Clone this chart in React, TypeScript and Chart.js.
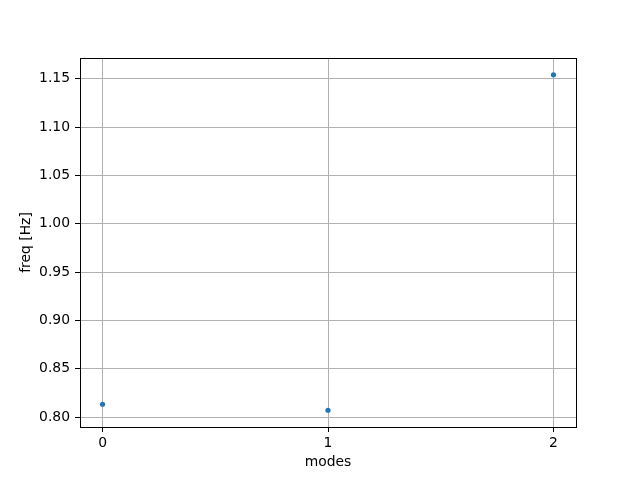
import { useEffect, useRef } from 'react';
import { Chart, registerables } from 'chart.js';

Chart.register(...registerables);

const modes = [0, 1, 2];
const freqs = [0.8134, 0.8072, 1.1541];
const xTicks = [0, 1, 2];
const yTicks = [0.8, 0.85, 0.9, 0.95, 1.0, 1.05, 1.1, 1.15];

const FONT = 'DejaVu Sans';
const FS = 13.9;

// matplotlib-like 5% margins
const yLo = Math.min(...freqs);
const yHi = Math.max(...freqs);
const yPad = (yHi - yLo) * 0.05;
const xPad = (Math.max(...modes) - Math.min(...modes)) * 0.05;

const frame = {
  id: 'frame',
  afterDraw(chart: Chart) {
    const { ctx, chartArea: a } = chart;
    ctx.save();
    ctx.strokeStyle = '#000';
    ctx.lineWidth = 1;
    ctx.strokeRect(Math.round(a.left) + 0.5, Math.round(a.top) + 0.5, Math.round(a.right - a.left), Math.round(a.bottom - a.top));
    ctx.restore();
  },
};

export default function App() {
  const canvasRef = useRef<HTMLCanvasElement>(null);
  const chartRef = useRef<Chart | null>(null);

  useEffect(() => {
    document.body.style.margin = '0';
    if (!canvasRef.current) return;
    const ctx = canvasRef.current.getContext('2d');
    if (!ctx) return;

    chartRef.current?.destroy();
    chartRef.current = new Chart(ctx, {
      type: 'scatter',
      data: {
        datasets: [{
          data: modes.map((m, i) => ({ x: m, y: freqs[i] })),
          backgroundColor: '#1f77b4',
          borderColor: '#1f77b4',
          pointRadius: 2.6,
          borderWidth: 0,
        }],
      },
      options: {
        animation: false,
        responsive: false,
        devicePixelRatio: 1,
        layout: { padding: { left: 0, top: 58, right: 64, bottom: 0 } },
        plugins: { legend: { display: false }, tooltip: { enabled: false } },
        scales: {
          x: {
            type: 'linear',
            min: Math.min(...modes) - xPad,
            max: Math.max(...modes) + xPad,
            afterBuildTicks: (s: any) => { s.ticks = xTicks.map((v) => ({ value: v })); },
            afterFit: (s: any) => { s.height = 53; },
            ticks: {
              color: '#000',
              font: { family: FONT, size: FS },
              padding: 3,
              maxRotation: 0,
              callback: (v: any) => String(v),
            },
            grid: { color: '#b0b0b0', lineWidth: 1, tickColor: '#000', tickLength: 5, drawTicks: true },
            border: { color: '#000', width: 1 },
            title: {
              display: true,
              text: 'modes',
              color: '#000',
              font: { family: FONT, size: FS },
              padding: { top: 0, bottom: 9 },
            },
          },
          y: {
            type: 'linear',
            min: yLo - yPad,
            max: yHi + yPad,
            afterBuildTicks: (s: any) => { s.ticks = yTicks.map((v) => ({ value: v })); },
            afterFit: (s: any) => { s.width = 80; },
            ticks: {
              color: '#000',
              font: { family: FONT, size: FS },
              padding: 5,
              callback: (v: any) => Number(v).toFixed(2),
            },
            grid: { color: '#b0b0b0', lineWidth: 1, tickColor: '#000', tickLength: 5, drawTicks: true },
            border: { color: '#000', width: 1 },
            title: {
              display: true,
              text: 'freq [Hz]',
              color: '#000',
              font: { family: FONT, size: FS },
              padding: { top: 17.6, bottom: 0 },
            },
          },
        },
      },
      plugins: [frame],
    });

    return () => { chartRef.current?.destroy(); };
  }, []);

  return (
    <div style={{ width: 640, height: 480, background: '#fff' }}>
      <canvas ref={canvasRef} width={640} height={480} />
    </div>
  );
}
